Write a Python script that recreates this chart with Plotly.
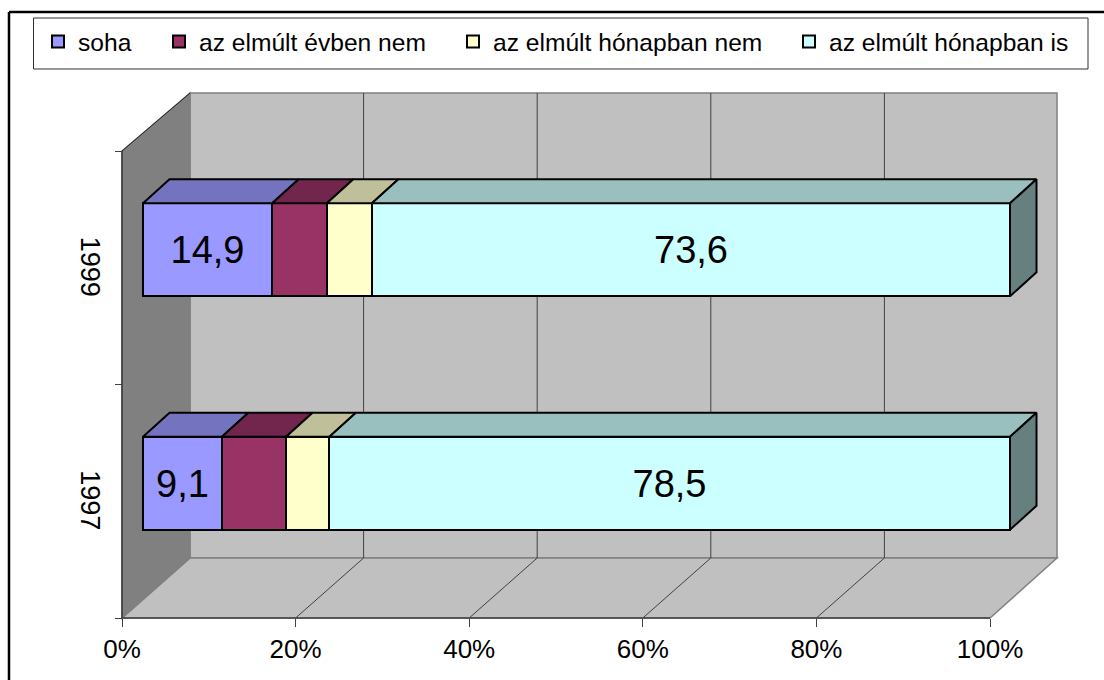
import plotly.graph_objects as go

# ---- data ----
years = ["1997", "1999"]
series_names = ["soha", "az elmúlt évben nem", "az elmúlt hónapban nem", "az elmúlt hónapban is"]
soha = [9.1, 14.9]
evben = [7.4, 6.3]
honap_nem = [5.0, 5.2]
honap_is = [78.5, 73.6]
series_values = [soha, evben, honap_nem, honap_is]
label_flags = [True, False, False, True]
pct_ticks = [0, 20, 40, 60, 80, 100]

# ---- style ----
front_cols = ["#9999FF", "#993366", "#FFFFCC", "#CCFFFF"]
top_cols = ["#7373BF", "#73264D", "#BFBF99", "#99BFBF"]
side_col = "#668080"
legend_widths = [76, 249, 291, 245]
FONT = "Liberation Sans"
W, H = 1104, 680
L, B = 50, 62           # plot-area margins
X0 = 122                # pixel of the 0% tick
PX_X = 8.68             # pixels per percent
PX_Y = 233.5            # pixels per category
plot_w, plot_h = W - L, H - B

def xd(px): return (px - X0) / PX_X
def yd(py): return -0.5 + (618 - py) / PX_Y
def xp(px): return (px - L) / plot_w
def yp(py): return (618 - py) / plot_h

bar_shift = xd(143)           # bars sit in the middle of the floor depth
depth_x = 26.5 / PX_X         # depth of a bar
depth_y = 24 / PX_Y
bar_w = 93 / PX_Y
bar_off = -bar_w / 2 + 18 / PX_Y
scale = 867 / 868
label_nudge = 3 / PX_Y

fig = go.Figure()

cum = [0.0 for _ in years]
tops = []
for name, vals, col, flag, lw in zip(series_names, series_values, front_cols, label_flags, legend_widths):
    base = [bar_shift + c * scale for c in cum]
    scaled = [v * scale for v in vals]
    fig.add_trace(go.Bar(
        y=[0, 1], x=scaled, base=base, orientation="h", name=name, legendwidth=lw,
        width=bar_w, offset=bar_off,
        marker=dict(color=col, line=dict(color="black", width=2)),
        text=[f"{v:.1f}".replace(".", ",") if flag else "" for v in vals],
        textposition="inside", insidetextanchor="middle", textangle=0,
        constraintext="none",
        insidetextfont=dict(family=FONT, size=38, color="black"),
        hoverinfo="skip",
    ))
    tops.append((base, scaled))
    cum = [c + v for c, v in zip(cum, vals)]

# oblique top faces and the end face, derived from the stacked values
for (base, scaled), col in zip(tops, top_cols):
    xs, ys = [], []
    for i in range(2):
        yt = i + bar_off + bar_w
        x0, x1 = base[i], base[i] + scaled[i]
        xs += [x0, x1, x1 + depth_x, x0 + depth_x, x0, None]
        ys += [yt, yt, yt + depth_y, yt + depth_y, yt, None]
    fig.add_trace(go.Scatter(x=xs, y=ys, mode="lines", fill="toself", fillcolor=col,
                             line=dict(color="black", width=2), showlegend=False, hoverinfo="skip"))
base, scaled = tops[-1]
xs, ys = [], []
for i in range(2):
    yt = i + bar_off + bar_w
    yb = i + bar_off
    xe = base[i] + scaled[i]
    xs += [xe, xe + depth_x, xe + depth_x, xe, xe, None]
    ys += [yt, yt + depth_y, yb + depth_y, yb, yt, None]
fig.add_trace(go.Scatter(x=xs, y=ys, mode="lines", fill="toself", fillcolor=side_col,
                         line=dict(color="black", width=2), showlegend=False, hoverinfo="skip"))

# ---- walls, floor, frame ----
def poly(pts, fill, line="#808080", width=1.5):
    d = "M" + "L".join(f"{xp(a):.5f},{yp(b):.5f}" for a, b in pts) + "Z"
    return dict(type="path", path=d, xref="paper", yref="paper", fillcolor=fill,
                line=dict(color=line, width=width), layer="below")

def seg(a, b, c, d, color="#404040", width=1):
    return dict(type="line", xref="paper", yref="paper", x0=xp(a), y0=yp(b), x1=xp(c), y1=yp(d),
                line=dict(color=color, width=width), layer="below")

shapes = [
    poly([(190, 93), (1057, 93), (1057, 558), (190, 558)], "#C0C0C0"),
    poly([(122, 618), (190, 558), (1057, 558), (990, 618)], "#C0C0C0"),
    poly([(122, 151), (190, 93), (190, 558), (122, 618)], "#808080"),
]
for t in pct_ticks[1:-1]:
    fx = X0 + t * PX_X
    shapes.append(seg(fx, 618, fx + 68, 558))
    shapes.append(seg(fx + 68, 558, fx + 68, 93))
shapes += [
    seg(122, 151, 122, 618, "#202020", 1.2),
    seg(122, 618, 990, 618, "#404040", 1.5),
    seg(122, 151, 190, 93, "#202020", 1),
    seg(9, 12, 1104, 12, "black", 2.5),
    seg(9, 12, 9, 680, "black", 2.5),
    dict(type="rect", xref="paper", yref="paper", x0=xp(33.5), y0=yp(18), x1=xp(1088), y1=yp(69),
         fillcolor="white", line=dict(color="#303030", width=1), layer="below"),
]

fig.update_layout(
    width=W, height=H, autosize=False,
    margin=dict(l=L, r=0, t=0, b=B, pad=0, autoexpand=False),
    paper_bgcolor="white", plot_bgcolor="rgba(0,0,0,0)",
    barmode="overlay", bargap=0,
    font=dict(family=FONT, size=26, color="black"),
    shapes=shapes,
    showlegend=True,
    legend=dict(orientation="h", xref="container", yref="container", xanchor="left", yanchor="top",
                x=38 / W, y=1 - 19 / H, font=dict(family=FONT, size=24.6, color="black"),
                bgcolor="rgba(0,0,0,0)", borderwidth=0, traceorder="normal"),
    xaxis=dict(range=[xd(L), xd(W)], tickmode="array", tickvals=pct_ticks,
               ticktext=[f"{t}%" for t in pct_ticks], ticks="outside", ticklen=8, tickwidth=1,
               tickcolor="#404040", showgrid=False, zeroline=False, showline=False,
               tickfont=dict(family=FONT, size=26)),
    yaxis=dict(range=[-0.5, yd(0)], anchor="free", position=xp(X0),
               tickmode="array", tickvals=[0 - label_nudge, 1 - label_nudge], ticktext=years,
               tickangle=90, ticks="", showgrid=False, zeroline=False, showline=False,
               ticklabelstandoff=14, tickfont=dict(family=FONT, size=27),
               minor=dict(tickmode="array", tickvals=[-0.5, 0.5, 1.5], ticks="outside",
                          ticklen=7, tickwidth=1, tickcolor="#404040", showgrid=False)),
)
fig.write_html("out.html", config={"displayModeBar": False},
               post_script="document.body.style.margin='0';document.documentElement.style.overflow='hidden';")
